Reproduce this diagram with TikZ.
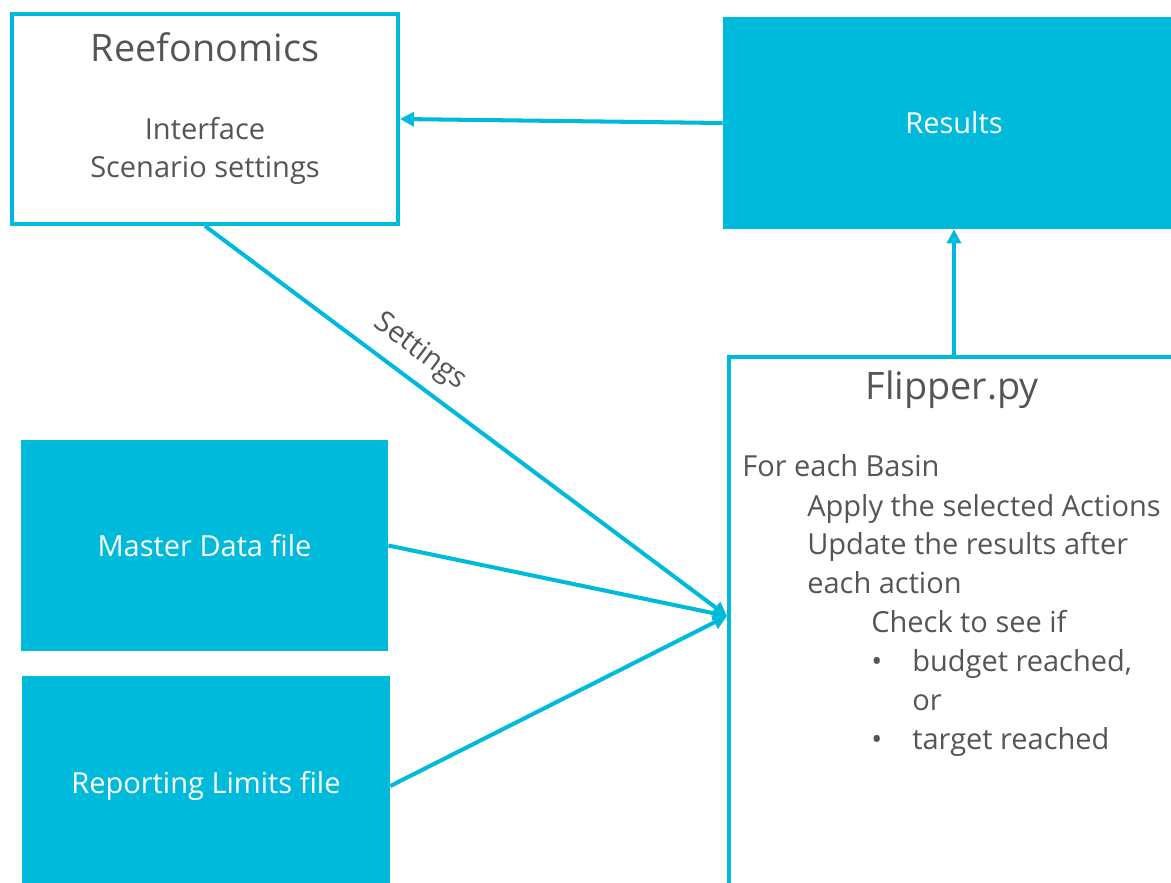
\documentclass[tikz,border=0pt]{standalone}
\usepackage{fontspec}
\setmainfont{Open Sans}
\usetikzlibrary{arrows.meta,positioning}
\definecolor{reefcyan}{RGB}{0,186,220}
\definecolor{reefgray}{RGB}{85,85,85}
\tikzset{openbox/.style={draw=reefcyan, line width=2.3pt, fill=white}}
\tikzset{solidbox/.style={fill=reefcyan, text=white, font=\fontsize{16.5}{20}\selectfont}}
\tikzset{arr/.style={draw=reefcyan, line width=2.3pt, -{Triangle[length=8pt,width=8pt]}}}
\tikzset{txt/.style={text=reefgray, font=\fontsize{16.5}{22}\selectfont, inner sep=0, text height=0.75em, text depth=0.25em}}
\tikzset{ttl/.style={text=reefgray, font=\fontsize{21.5}{24}\selectfont, inner sep=0}}

\begin{document}
\begin{tikzpicture}[x=0.02cm, y=-0.02cm]
    \useasboundingbox (0,0) rectangle (1171,883);
    \node[openbox, minimum width=7.72cm, minimum height=4.2cm] (RE) at (205,119) {};
    \node[solidbox, minimum width=9.24cm, minimum height=4.24cm] (Res) at (954,123) {Results};
    \node[openbox, minimum width=9.12cm, minimum height=10.76cm] (FP) at (957,626) {};
    \node[solidbox, minimum width=7.34cm, minimum height=4.22cm] (MD) at (204.5,545.5) {Master Data file};
    \node[solidbox, minimum width=7.36cm, minimum height=4.4cm] (RL) at (206,786) {Reporting Limits file};
    
    \node[ttl] (REt) at (205,47) {Reefonomics};
    \node[txt, align=center, text height=, text depth=] (REs) at (205,151) {Interface\\Scenario settings};
    \node[ttl] (FPt) at (952,390) {Flipper.py};
    
    \node[txt, anchor=west] (l1) at (742,472) {For each Basin};
    \node[txt, anchor=west] (l2) at (807,512) {Apply the selected Actions};
    \node[txt, anchor=west] (l3) at (807,550) {Update the results after};
    \node[txt, anchor=west] (l4) at (807,589) {each action};
    \node[txt, anchor=west] (l5) at (871,628) {Check to see if};
    \node[txt, anchor=west] (b1) at (871,667) {•};
    \node[txt, anchor=west] (l6) at (912,667) {budget reached,};
    \node[txt, anchor=west] (l7) at (912,706) {or};
    \node[txt, anchor=west] (b2) at (871,745) {•};
    \node[txt, anchor=west] (l8) at (912,745) {target reached};
    
    \coordinate (FPin) at (727,616);
    \draw[arr] (Res.west) -- (RE.east);
    \draw[arr] (FP.north -| Res.south) -- (Res.south);
    \draw[arr] (RE.south) -- node[txt, sloped, above=8pt, pos=0.38] {Settings} (FPin);
    \draw[arr] (MD.east) -- (FPin);
    \draw[arr] (RL.east) -- (FPin);
\end{tikzpicture}
\end{document}
